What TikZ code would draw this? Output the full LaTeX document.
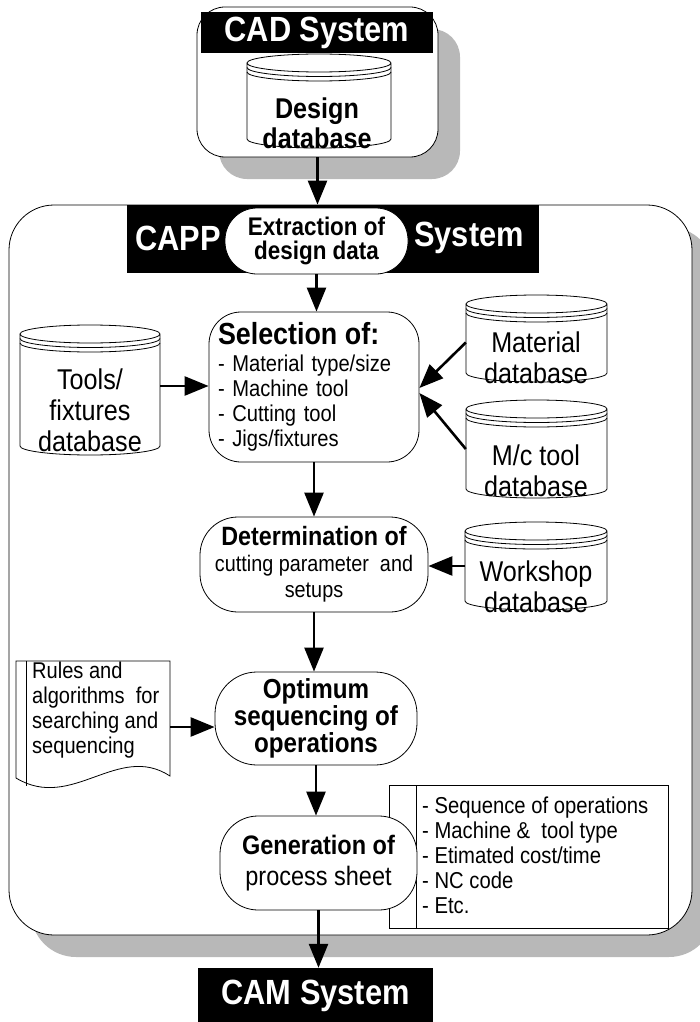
\documentclass[tikz,border=0pt]{standalone}
\usepackage{fontspec}
\setmainfont{Liberation Sans}[FakeStretch=0.88]
\usetikzlibrary{arrows.meta}

% database cylinder: name, left, top, right, bottom (y measured downwards)
\newcommand\dbcyl[5]{%
  \pgfmathsetmacro\cylcx{(#2+#4)/2}%
  \pgfmathsetmacro\cylrx{(#4-#2)/2}%
  \pgfmathsetmacro\cylcy{-(#3+#5)/2}%
  \pgfmathsetmacro\cylw{#4-#2}%
  \pgfmathsetmacro\cylh{#5-#3}%
  \def\cylry{9}%
  \draw[outline] (#2,-#3-\cylry) -- (#2,-#5+\cylry)
    arc[start angle=180,end angle=360,x radius=\cylrx,y radius=\cylry]
    -- (#4,-#3-\cylry)
    arc[start angle=0,end angle=360,x radius=\cylrx,y radius=\cylry];
  \draw[thinline] (#2,-#3-\cylry-4.5) arc[start angle=180,end angle=360,x radius=\cylrx,y radius=\cylry];
  \draw[thinline] (#2,-#3-\cylry-9) arc[start angle=180,end angle=360,x radius=\cylrx,y radius=\cylry];
  \node[inner sep=0pt,minimum width=\cylw pt,minimum height=\cylh pt] (#1) at (\cylcx,\cylcy) {};
}

\begin{document}
\begin{tikzpicture}[x=1pt,y=1pt,
  outline/.style={draw,line width=0.8pt,fill=white},
  thinline/.style={line width=0.8pt},
  rbox/.style={outline,inner sep=0pt,align=center},
  shadowfill/.style={fill=black!28,draw=none},
  flow/.style={line width=2.6pt,-{Triangle[length=24pt,width=19pt]}},
  hdr/.style={fill=black,draw=none,inner sep=0pt},
  hdrtext/.style={text=white,inner sep=0pt,font=\fontsize{35}{35}\selectfont\bfseries},
  dbtext/.style={inner sep=0pt,align=center,font=\fontsize{28.6}{31}\selectfont},
]
\useasboundingbox (0,0) rectangle (699,-1022);

% drop shadows
\fill[shadowfill,rounded corners=28pt] (219,-29) rectangle (460,-179);
\fill[shadowfill,rounded corners=45pt] (31,-227) rectangle (714,-957);

% CAD system
\node[rbox,minimum width=241pt,minimum height=150pt,rounded corners=28pt] (cad) at (317.5,-82) {};
\node[hdr,minimum width=232pt,minimum height=41pt] (cadhdr) at (317,-32.5) {};
\node[hdrtext] (cadT) at (317,-33) {CAD System};
\dbcyl{design}{247}{54}{391}{148}
\node[dbtext,font=\fontsize{28.6}{30}\selectfont\bfseries] (designT) at (317,-123) {Design\\database};

% CAPP system
\node[rbox,minimum width=683pt,minimum height=730pt,rounded corners=45pt] (capp) at (350.5,-570) {};
\node[hdr,minimum width=412pt,minimum height=68pt] (capphdr) at (333,-239) {};
\node[hdrtext] (cappT) at (178,-238) {CAPP};
\node[hdrtext] (systemT) at (469,-238) {System};
\node[rbox,minimum width=183pt,minimum height=66pt,rounded corners=32pt,
      font=\fontsize{25.5}{24.5}\selectfont\bfseries] (extr) at (316.5,-241) {Extraction of\\design data};

\node[rbox,minimum width=210pt,minimum height=150pt,rounded corners=32pt,
      text width=192pt,align=left,font=\fontsize{22.9}{25}\selectfont] (sel) at (314,-387)
  {{\fontsize{30.5}{30}\selectfont\bfseries Selection of:}\\[2pt]
   - Material type/size\\ - Machine tool\\ - Cutting tool\\ - Jigs/fixtures};

\dbcyl{tools}{20}{325}{160}{455}
\node[dbtext] (toolsT) at (90,-410) {Tools/\\fixtures\\database};
\dbcyl{mat}{466}{295}{607}{382}
\node[dbtext] (matT) at (536,-358) {Material\\database};
\dbcyl{mc}{466}{400}{607}{498}
\node[dbtext] (mcT) at (536,-471) {M/c tool\\database};

\node[rbox,minimum width=228pt,minimum height=95pt,rounded corners=38pt,
      font=\fontsize{22.5}{26}\selectfont] (det) at (314,-564.5)
  {{\fontsize{26.5}{26}\selectfont\bfseries Determination of}\\cutting parameter\ \ and\\setups};
\dbcyl{work}{465}{522}{607}{610}
\node[dbtext] (workT) at (536,-587) {Workshop\\database};

% rules document
\node[inner sep=0pt,minimum width=154pt,minimum height=132pt] (rules) at (93,-727) {};
\draw[outline] (16,-661) -- (170,-661) -- (170,-776)
  .. controls (118,-742) and (72,-812) .. (16,-778) -- cycle;
\draw[thinline] (26,-661) -- (26,-786);
\node[inner sep=0pt,anchor=west,align=left,font=\fontsize{22.8}{25}\selectfont] (rulesT) at (32,-710.5)
  {Rules and\\algorithms\ \ for\\searching and\\sequencing};

\node[rbox,minimum width=202pt,minimum height=93pt,rounded corners=42pt,
      font=\fontsize{27.5}{23.5}\selectfont\bfseries] (opt) at (316,-718.5)
  {Optimum\\sequencing of\\operations};

% output list
\node[outline,inner sep=0pt,minimum width=279pt,minimum height=143pt] (outl) at (528.5,-856.5) {};
\draw[thinline] (416,-785) -- (416,-928);
\node[inner sep=0pt,anchor=west,align=left,font=\fontsize{23}{25}\selectfont] (outlT) at (422,-855)
  {- Sequence of operations\\- Machine \&\ \ tool type\\- Etimated cost/time\\- NC code\\- Etc.};

\node[rbox,minimum width=197pt,minimum height=94pt,rounded corners=38pt,
      font=\fontsize{26.7}{31}\selectfont] (gen) at (318.5,-863)
  {\textbf{Generation of}\\process sheet};

% CAM system
\node[hdr,minimum width=235pt,minimum height=54pt] (camhdr) at (315.5,-995) {};
\node[hdrtext] (camT) at (315.5,-996) {CAM System};

% connectors
\draw[flow] (cad.south) -- (cad.south |- capp.north);
\draw[flow] (extr.south) -- (extr.south |- sel.north);
\draw[flow] ([yshift=4pt]tools.east) -- ([yshift=4pt]tools.east -| sel.west);
\draw[flow] ([yshift=-4pt]mat.west) -- ([yshift=-1pt]sel.east);
\draw[flow] (mc.west) -- ([yshift=-6pt]sel.east);
\draw[flow] (sel.south) -- (sel.south |- det.north);
\draw[flow] (work.west) -- (work.west -| det.east);
\draw[flow] (det.south) -- (det.south |- opt.north);
\draw[flow] (rules.east) -- (rules.east -| opt.west);
\draw[flow] (opt.south) -- (opt.south |- gen.north);
\draw[flow] (gen.south) -- (gen.south |- camhdr.north);
\end{tikzpicture}
\end{document}
